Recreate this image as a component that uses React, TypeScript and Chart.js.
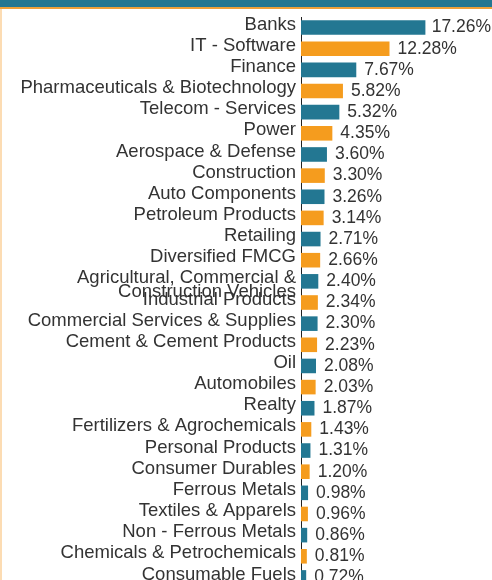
import React, { useEffect, useRef } from "react";
import { Chart, registerables } from "chart.js";

Chart.register(...registerables);

const categories: (string | string[])[] = [
  "Banks",
  "IT - Software",
  "Finance",
  "Pharmaceuticals & Biotechnology",
  "Telecom - Services",
  "Power",
  "Aerospace & Defense",
  "Construction",
  "Auto Components",
  "Petroleum Products",
  "Retailing",
  "Diversified FMCG",
  ["Agricultural, Commercial &", "Construction Vehicles"],
  "Industrial Products",
  "Commercial Services & Supplies",
  "Cement & Cement Products",
  "Oil",
  "Automobiles",
  "Realty",
  "Fertilizers & Agrochemicals",
  "Personal Products",
  "Consumer Durables",
  "Ferrous Metals",
  "Textiles & Apparels",
  "Non - Ferrous Metals",
  "Chemicals & Petrochemicals",
  "Consumable Fuels",
];

const values: number[] = [
  17.26, 12.28, 7.67, 5.82, 5.32, 4.35, 3.6, 3.3, 3.26, 3.14, 2.71, 2.66, 2.4,
  2.34, 2.3, 2.23, 2.08, 2.03, 1.87, 1.43, 1.31, 1.2, 0.98, 0.96, 0.86, 0.81,
  0.72,
];

const barColors: string[] = ["#237792", "#f59c1e"];

const FONT_FAMILY = "'Liberation Sans', Arial, Helvetica, sans-serif";

const valueLabels = {
  id: "valueLabels",
  afterDatasetsDraw(chart: any) {
    const ctx = chart.ctx;
    const meta = chart.getDatasetMeta(0);
    const right = chart.chartArea.right;
    ctx.save();
    ctx.font = `17.5px ${FONT_FAMILY}`;
    ctx.fillStyle = "#333333";
    ctx.textAlign = "left";
    ctx.textBaseline = "middle";
    meta.data.forEach((bar: any, i: number) => {
      const text = values[i].toFixed(2) + "%";
      const w = ctx.measureText(text).width;
      const x = Math.min(bar.x + 8, right - w - 1);
      ctx.fillText(text, x, bar.y);
    });
    ctx.restore();
  },
};

export default function App() {
  const canvasRef = useRef<HTMLCanvasElement | null>(null);

  useEffect(() => {
    if (!canvasRef.current) return;
    const chart = new Chart(canvasRef.current, {
      type: "bar",
      data: {
        labels: categories,
        datasets: [
          {
            data: values,
            backgroundColor: categories.map((_, i) => barColors[i % 2]),
            borderWidth: 0,
            barPercentage: 0.69,
            categoryPercentage: 1,
          },
        ],
      },
      options: {
        indexAxis: "y",
        responsive: false,
        maintainAspectRatio: false,
        animation: false,
        layout: { padding: { top: 13, right: 0, bottom: 0, left: 0 } },
        plugins: {
          legend: { display: false },
          tooltip: { enabled: false },
        },
        scales: {
          x: { display: false, min: 0, max: 26.5 },
          y: {
            z: 1,
            afterFit(scale: any) {
              scale.width = 299;
            },
            grid: { display: true, color: "transparent", drawTicks: false },
            border: { display: true, color: "#222222", width: 1 },
            ticks: {
              autoSkip: false,
              color: "#333333",
              padding: 5,
              labelOffset: -3,
              font: { family: FONT_FAMILY, size: 18.5, lineHeight: "14px" },
              callback(_value: any, index: number) {
                const label = categories[index];
                // wrapped labels: first line sits on the tick, the rest below it
                return Array.isArray(label) ? ["", ...label] : label;
              },
            },
          },
        },
      },
      plugins: [valueLabels],
    });
    return () => chart.destroy();
  }, []);

  return (
    <div
      style={{
        position: "fixed",
        top: 0,
        left: 0,
        width: 492,
        height: 580,
        overflow: "hidden",
        background: "#ffffff",
      }}
    >
      <div
        style={{
          position: "absolute",
          top: 0,
          left: 0,
          width: 492,
          height: 7,
          background: "#237792",
          borderBottom: "2px solid #eea13a",
          zIndex: 2,
        }}
      />
      <div
        style={{
          position: "absolute",
          top: 9,
          left: 0,
          width: 2,
          height: 580,
          background: "#fcdcb3",
          zIndex: 2,
        }}
      />
      <canvas
        ref={canvasRef}
        width={490}
        height={596}
        style={{
          position: "absolute",
          top: 4,
          left: 2,
          display: "block",
          width: 490,
          height: 596,
        }}
      />
    </div>
  );
}
